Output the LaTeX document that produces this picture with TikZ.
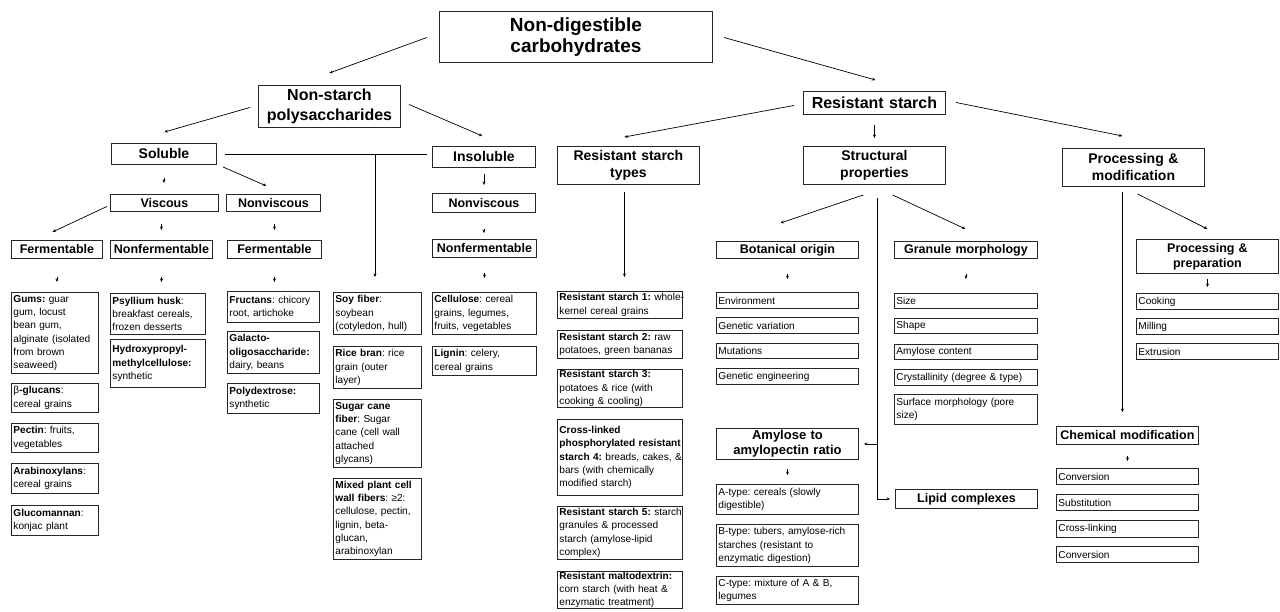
\documentclass[tikz,border=0pt]{standalone}
\usepackage{fontspec}
\setmainfont{Liberation Sans}
\usetikzlibrary{calc,arrows.meta}
\frenchspacing
\newcommand\nohyph{\hyphenpenalty=10000\relax\exhyphenpenalty=10000\relax}
\newcommand\mkbox[7]{%
  \pgfmathsetmacro\bxw{#4-#2}\pgfmathsetmacro\bxh{#5-#3}\pgfmathsetmacro\bxt{#4-#2-4}%
  \node[#6, anchor=north west, minimum width=\bxw pt, minimum height=\bxh pt, text width=\bxt pt] (#1) at (#2,#3) {#7};}
\begin{document}
\begin{tikzpicture}[x=1pt,y=-1pt,
  box/.style={draw=black!85, line width=0.9pt, inner xsep=2pt, inner ysep=0.5pt, text=black},
  ttl/.style={box, align=center, font=\bfseries\fontsize{19}{21}\selectfont},
  big/.style={box, align=center, font=\bfseries\fontsize{16}{20}\selectfont},
  mid/.style={box, align=center, font=\bfseries\fontsize{14}{17}\selectfont},
  sub/.style={box, align=center, font=\bfseries\fontsize{12.5}{15}\selectfont},
  txt/.style={box, align=left, inner xsep=1.5pt, font=\fontsize{10.1}{13.2}\selectfont\nohyph},
  arr/.style={line width=0.7pt, -{Stealth[length=3.5pt,width=3pt]}},
  ln/.style={line width=0.7pt}]
\fill[white] (0,0) rectangle (1280,612);
\useasboundingbox (0,0) rectangle (1280,612);

% headers
\mkbox{title}{439}{11}{712}{62}{ttl}{Non-digestible\\carbohydrates}
\mkbox{nsp}{258}{85}{400}{127}{big}{Non-starch\\polysaccharides}
\mkbox{rs}{803}{91}{945}{114}{big}{Resistant starch}
\mkbox{sol}{111}{143}{216}{164}{mid}{Soluble}
\mkbox{insol}{432}{146}{535}{167}{mid}{Insoluble}
\mkbox{rst}{557}{146}{699}{184}{mid}{Resistant starch\\types}
\mkbox{struct}{803}{146}{945}{184}{mid}{Structural\\properties}
\mkbox{pm}{1062}{148}{1204}{186}{mid}{Processing \&\\modification}

% sub headers
\mkbox{visc}{110}{194}{218}{211}{sub}{Viscous}
\mkbox{nvl}{226}{194}{320}{211}{sub}{Nonviscous}
\mkbox{nvr}{432}{193}{535}{212}{sub}{Nonviscous}
\mkbox{fe1}{11}{240}{102}{258}{sub}{Fermentable}
\mkbox{nf1}{110}{240}{212}{258}{sub}{Nonfermentable}
\mkbox{fe2}{227}{240}{321}{258}{sub}{Fermentable}
\mkbox{nf2}{432}{239}{536}{257}{sub}{Nonfermentable}
\mkbox{bot}{716}{241}{858}{258}{sub}{Botanical origin}
\mkbox{gran}{894}{241}{1037}{258}{sub}{Granule morphology}
\mkbox{amyl}{716}{428}{858}{459}{sub, font=\bfseries\fontsize{13}{15}\selectfont}{Amylose to\\amylopectin ratio}
\mkbox{lipid}{895}{489}{1037}{508}{sub}{Lipid complexes}
\mkbox{prep}{1136}{239}{1278}{273}{sub}{Processing \&\\preparation}
\mkbox{chem}{1056}{426}{1198}{444}{sub}{Chemical modification}

% content boxes
\mkbox{gums}{11}{292}{98}{373}{txt}{\textbf{Gums:} guar\\gum, locust\\bean gum,\\alginate (isolated\\from brown\\seaweed)}
\mkbox{bglu}{11}{383}{98}{412}{txt}{β\textbf{-glucans}:\\cereal grains}
\mkbox{pect}{11}{423}{98}{452}{txt}{\textbf{Pectin}: fruits,\\vegetables}
\mkbox{arab}{11}{463}{98}{493}{txt}{\textbf{Arabinoxylans}:\\cereal grains}
\mkbox{gluc}{11}{505}{98}{535}{txt}{\textbf{Glucomannan}:\\konjac plant}
\mkbox{psyl}{110}{293}{205}{334}{txt}{\textbf{Psyllium husk}:\\breakfast cereals,\\frozen desserts}
\mkbox{hpmc}{110}{339}{205}{387}{txt}{\textbf{Hydroxypropyl-}\\\textbf{methylcellulose:}\\synthetic}
\mkbox{fruc}{227}{291}{319}{322}{txt}{\textbf{Fructans}: chicory\\root, artichoke}
\mkbox{gala}{227}{331}{319}{373}{txt}{\textbf{Galacto-}\\\textbf{oligosaccharide:}\\dairy, beans}
\mkbox{poly}{227}{383}{319}{413}{txt}{\textbf{Polydextrose:}\\synthetic}
\mkbox{soy}{333}{292}{421}{334}{txt}{\textbf{Soy fiber}:\\soybean\\(cotyledon, hull)}
\mkbox{rice}{333}{346}{421}{388}{txt}{\textbf{Rice bran}: rice\\grain (outer\\layer)}
\mkbox{sug}{333}{399}{421}{467}{txt}{\textbf{Sugar cane}\\\textbf{fiber}: Sugar\\cane (cell wall\\attached\\glycans)}
\mkbox{mix}{333}{478}{421}{559}{txt}{\textbf{Mixed plant cell}\\\textbf{wall fibers}: ≥2:\\cellulose, pectin,\\lignin, beta-\\glucan,\\arabinoxylan}
\mkbox{cell}{432}{292}{536}{334}{txt}{\textbf{Cellulose}: cereal\\grains, legumes,\\fruits, vegetables}
\mkbox{lign}{432}{346}{536}{375}{txt}{\textbf{Lignin}: celery,\\cereal grains}
\mkbox{rs1}{557}{291}{682}{318}{txt}{\mbox{\textbf{Resistant starch 1:} whole-}\\kernel cereal grains}
\mkbox{rs2}{557}{330}{682}{358}{txt}{\textbf{Resistant starch 2:} raw\\potatoes, green bananas}
\mkbox{rs3}{557}{369}{682}{407}{txt}{\textbf{Resistant starch 3:}\\potatoes \& rice (with\\cooking \& cooling)}
\mkbox{rs4}{557}{419}{682}{495}{txt}{\textbf{Cross-linked}\\\mbox{\textbf{phosphorylated resistant}}\\\mbox{\textbf{starch 4:} breads, cakes, \&}\\bars (with chemically\\modified starch)}
\mkbox{rs5}{557}{506}{682}{559}{txt}{\mbox{\textbf{Resistant starch 5:} starch}\\granules \& processed\\starch (amylose-lipid\\complex)}
\mkbox{malt}{557}{571}{682}{608}{txt}{\textbf{Resistant maltodextrin:}\\corn starch (with heat \&\\enzymatic treatment)}
\mkbox{env}{716}{292}{858}{308}{txt}{Environment}
\mkbox{gvar}{716}{317}{858}{333}{txt}{Genetic variation}
\mkbox{mut}{716}{343}{858}{358}{txt}{Mutations}
\mkbox{geng}{716}{368}{858}{384}{txt}{Genetic engineering}
\mkbox{size}{894}{293}{1037}{308}{txt}{Size}
\mkbox{shape}{894}{318}{1037}{333}{txt}{Shape}
\mkbox{amc}{894}{344}{1037}{359}{txt}{Amylose content}
\mkbox{cry}{894}{369}{1037}{385}{txt}{Crystallinity (degree \& type)}
\mkbox{surf}{894}{394}{1037}{424}{txt}{Surface morphology (pore\\size)}
\mkbox{at}{716}{484}{858}{514}{txt}{A-type: cereals (slowly\\digestible)}
\mkbox{bt}{716}{524}{858}{566}{txt}{B-type: tubers, amylose-rich\\starches (resistant to\\enzymatic digestion)}
\mkbox{ct}{716}{576}{858}{604}{txt}{C-type: mixture of A \& B,\\legumes}
\mkbox{cook}{1136}{293}{1278}{309}{txt}{Cooking}
\mkbox{mill}{1136}{318}{1278}{334}{txt}{Milling}
\mkbox{ext}{1136}{343}{1278}{359}{txt}{Extrusion}
\mkbox{conv1}{1056}{468}{1198}{484}{txt}{Conversion}
\mkbox{subst}{1056}{494}{1198}{510}{txt}{Substitution}
\mkbox{cross}{1056}{520}{1198}{537}{txt}{Cross-linking}
\mkbox{conv2}{1056}{546}{1198}{562}{txt}{Conversion}

% connectors
\draw[arr] ($(title.west)+(-12,0.5)$) -- ($(nsp.north)+(0,-12)$);
\draw[arr] ($(title.east)+(11,0.5)$) -- ($(rs.north)+(1,-11)$);
\draw[arr] ($(nsp.west)+(-8,1)$) -- ($(sol.north)+(0.5,-11)$);
\draw[arr] ($(nsp.east)+(8,-2)$) -- ($(insol.north)+(-1.5,-10)$);
\coordinate (j1) at (375,154);
\draw[ln] ($(sol.east)+(8,0.5)$) -- ($(insol.west)+(-5,-2.5)$);
\draw[arr, shorten >=15pt] (j1) -- (j1 |- soy.north);
\draw[arr, shorten <=13pt, shorten >=11pt] (sol.south) -- (sol.south |- visc.north);
\draw[arr] ($(sol.south east)+(6,2)$) -- ($(nvl.north)+(-7,-8)$);
\draw[arr, shorten <=6pt, shorten >=8pt] (insol.south) -- (insol.south |- nvr.north);
\draw[arr] ($(visc.west)+(-3,3.5)$) -- ($(fe1.north)+(-4.5,-8)$);
\draw[arr, shorten <=12pt, shorten >=10pt] (visc.south -| nf1.north) -- (nf1.north);
\draw[arr, shorten <=12pt, shorten >=10pt] (nvl.south -| fe2.north) -- (fe2.north);
\draw[arr, shorten <=18pt, shorten >=10pt] (fe1.south) -- (fe1.south |- gums.north);
\draw[arr, shorten <=18pt, shorten >=11pt] (nf1.south) -- (nf1.south |- psyl.north);
\draw[arr, shorten <=18pt, shorten >=9pt] (fe2.south) -- (fe2.south |- fruc.north);
\draw[arr, shorten <=16pt, shorten >=6pt] (nvr.south) -- (nvr.south |- nf2.north);
\draw[arr, shorten <=15pt, shorten >=14pt] (nf2.south) -- (nf2.south |- cell.north);

\draw[arr] ($(rs.west)+(-9,2.5)$) -- ($(rst.north)+(-4,-9)$);
\draw[arr, shorten <=10pt, shorten >=8pt] (rs.south) -- (rs.south |- struct.north);
\draw[arr] ($(rs.east)+(10,-0.5)$) -- ($(pm.north)+(-11,-12)$);
\draw[arr] ($(rst.south)+(-4,7)$) -- ($(rst.south |- rs1.north)+(-4,-14)$);
\draw[arr] ($(struct.south)+(-11,10)$) -- ($(bot.north)+(-7,-18)$);
\draw[arr] ($(struct.south)+(18,10)$) -- ($(gran.north)+(-0.5,-12)$);
\coordinate (vx) at ($(struct.south)+(3,13)$);
\draw[arr] (vx) |- ($(lipid.west)+(-5,0)$);
\draw[arr] (vx |- amyl.east) -- ($(amyl.east)+(5,0)$);
\draw[arr, shorten <=15pt, shorten >=13pt] (bot.south) -- (bot.south |- env.north);
\draw[arr, shorten <=15pt, shorten >=14pt] (gran.south) -- (gran.south |- size.north);
\draw[arr, shorten <=9pt, shorten >=9pt] (amyl.south) -- (amyl.south |- at.north);
\coordinate (px) at ($(pm.south)+(-11,5)$);
\draw[arr, shorten >=14pt] (px) -- (px |- chem.north);
\draw[arr] ($(pm.south)+(4,7)$) -- ($(prep.north)+(0,-10)$);
\draw[arr, shorten <=5pt, shorten >=6pt] (prep.south) -- (prep.south |- cook.north);
\draw[arr, shorten <=11pt, shorten >=7pt] (chem.south) -- (chem.south |- conv1.north);
\end{tikzpicture}
\end{document}
